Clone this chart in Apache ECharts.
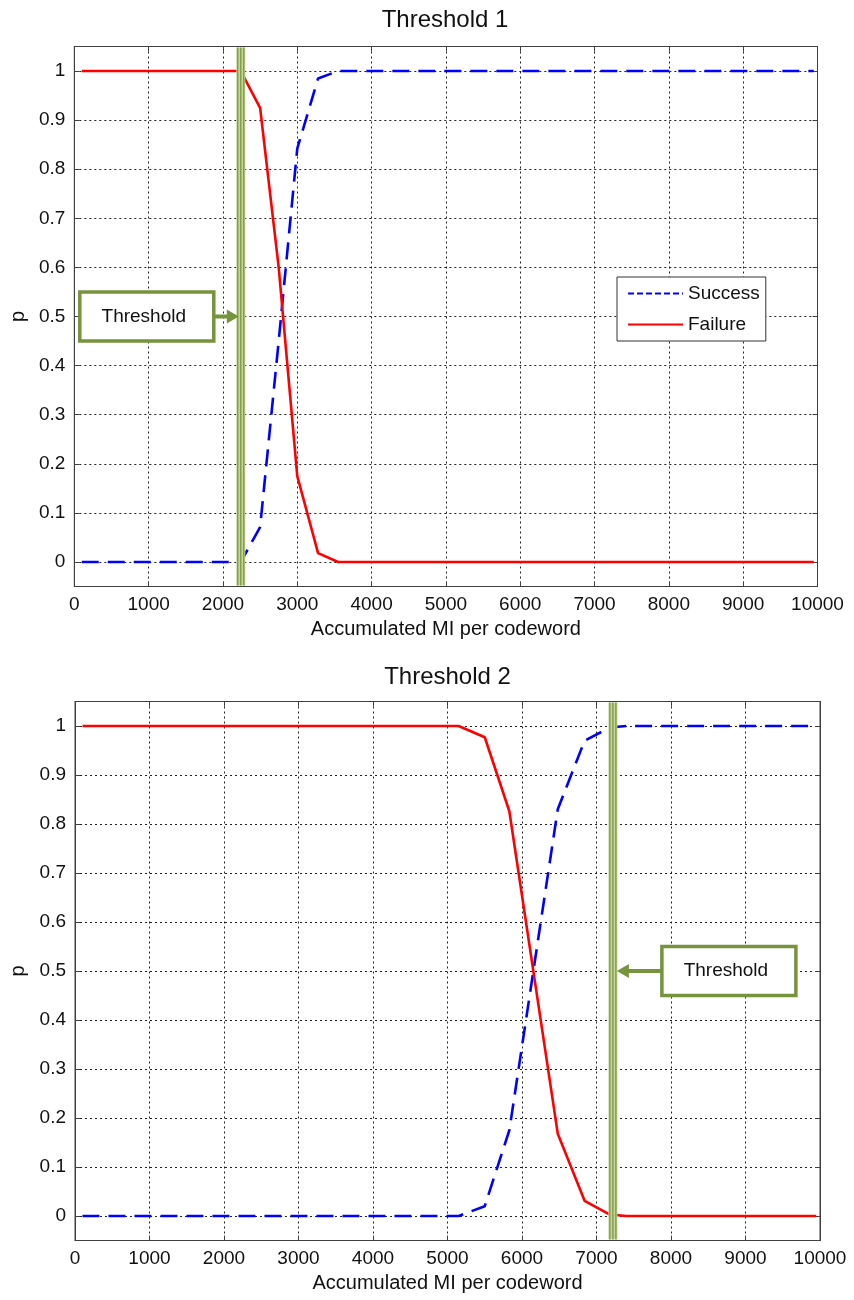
<!DOCTYPE html>
<html>
<head>
<meta charset="utf-8">
<title>Threshold 1 / Threshold 2</title>
<script src="https://cdn.jsdelivr.net/npm/echarts@6/dist/echarts.min.js"></script>
<style>
  html, body { margin: 0; padding: 0; background: #fff; }
  #chart { width: 854px; height: 1300px; }
</style>
</head>
<body>
<div id="chart"></div>
<script>
// ---- data ----
const panelTitles = ['Threshold 1', 'Threshold 2'];
const xAxisName = 'Accumulated MI per codeword';
const yAxisName = 'p';
const yTicks = [0, 0.1, 0.2, 0.3, 0.4, 0.5, 0.6, 0.7, 0.8, 0.9, 1];

// panel 1
const mi1 = [100, 2240, 2500, 2750, 3000, 3280, 3550, 9950];
const success1 = [0, 0, 0.071, 0.45, 0.842, 0.985, 1, 1];
const failure1 = [1, 1, 0.925, 0.6, 0.175, 0.018, 0, 0];
const threshold1 = 2240;

// panel 2
const mi2 = [100, 5150, 5500, 5830, 6480, 6840, 7180, 7400, 9950];
const success2 = [0, 0, 0.02, 0.175, 0.83, 0.97, 0.997, 1, 1];
const failure2 = [1, 1, 0.977, 0.826, 0.168, 0.031, 0.003, 0, 0];
const threshold2 = 7220;

const thresholdLabel = 'Threshold';
const thresholdP = 0.5;

// ---- styling ----
const FONT = '"Liberation Sans", Arial, Helvetica, sans-serif';
const BLUE = '#0000ff';
const RED = '#ff0000';
const OLIVE = '#77933c';
const OLIVE_LIGHT = '#c4d79b';
const AXIS = '#404040';

const grids = [
  { left: 72.5, top: 46.5, width: 745, height: 540 },
  { left: 75, top: 701.5, width: 745, height: 539 }
];

function pairs(xs, ys) { return xs.map((x, i) => [x, ys[i]]); }

function xAxes(gi) {
  const base = {
    type: 'value', gridIndex: gi, min: 0, max: 10000, interval: 1000,
    axisLine: { show: true, onZero: false, lineStyle: { color: AXIS, width: 1 } },
    axisTick: { show: true, inside: true, length: 5, lineStyle: { color: AXIS } }
  };
  return [
    Object.assign({}, base, {
      position: 'bottom',
      name: xAxisName, nameLocation: 'middle', nameGap: 33,
      nameTextStyle: { fontSize: 20, color: '#111', fontFamily: FONT },
      axisLabel: { fontSize: 19, color: '#111', margin: 9, fontFamily: FONT, formatter: v => String(v) },
      splitLine: { show: true, lineStyle: { color: '#222', width: 1, type: [2, 3] } }
    }),
    Object.assign({}, base, {
      position: 'top', axisLabel: { show: false }, splitLine: { show: false }
    })
  ];
}

function yAxes(gi) {
  const base = {
    type: 'value', gridIndex: gi, min: -0.05, max: 1.05,
    axisLine: { show: true, onZero: false, lineStyle: { color: AXIS, width: 1 } },
    axisTick: { show: true, inside: true, length: 5, customValues: yTicks, lineStyle: { color: AXIS } }
  };
  return [
    Object.assign({}, base, {
      position: 'left',
      name: yAxisName, nameLocation: 'middle', nameGap: 46, nameRotate: 90,
      nameTextStyle: { fontSize: 20, color: '#111', fontFamily: FONT },
      axisLabel: { fontSize: 19, color: '#111', margin: 9, fontFamily: FONT,
                   customValues: yTicks, formatter: v => String(+v.toFixed(2)) },
      splitLine: { show: true, lineStyle: { color: '#222', width: 1, type: [2, 3] } }
    }),
    Object.assign({}, base, {
      position: 'right', axisLabel: { show: false }, splitLine: { show: false }
    })
  ];
}

// vertical threshold band plus the boxed "Threshold" call-out with arrow
function thresholdRenderer(side) {
  return function (params, api) {
    const p = api.coord([api.value(0), api.value(1)]);
    const cs = params.coordSys;
    const cx = p[0], cy = p[1];
    const top = cs.y + 1, h = cs.height - 2;
    const children = [
      { type: 'rect', shape: { x: cx - 4.5, y: top, width: 9, height: h }, style: { fill: OLIVE_LIGHT } }
    ];
    [-3, 0, 3].forEach(d => children.push({
      type: 'line', shape: { x1: cx + d, y1: top, x2: cx + d, y2: top + h },
      style: { stroke: OLIVE, lineWidth: 1.2 }
    }));
    const bw = 134, bh = 49;
    let bx;
    if (side === 'left') {
      bx = cx - 27 - bw;
      children.push(
        { type: 'line', shape: { x1: cx - 27, y1: cy, x2: cx - 12, y2: cy }, style: { stroke: OLIVE, lineWidth: 4 } },
        { type: 'polygon', shape: { points: [[cx - 14, cy - 7], [cx - 14, cy + 7], [cx - 2, cy]] }, style: { fill: OLIVE } }
      );
    } else {
      bx = cx + 49;
      children.push(
        { type: 'line', shape: { x1: cx + 49, y1: cy, x2: cx + 14, y2: cy }, style: { stroke: OLIVE, lineWidth: 4 } },
        { type: 'polygon', shape: { points: [[cx + 16, cy - 7], [cx + 16, cy + 7], [cx + 4, cy]] }, style: { fill: OLIVE } }
      );
    }
    children.push(
      { type: 'rect', shape: { x: bx, y: cy - bh / 2, width: bw, height: bh },
        style: { fill: '#fff', stroke: OLIVE, lineWidth: 3.5 } },
      { type: 'text', x: bx + bw / 2 - 3, y: cy,
        style: { text: thresholdLabel, fill: '#111', fontSize: 19, fontFamily: FONT,
                 align: 'center', verticalAlign: 'middle', textAlign: 'center', textVerticalAlign: 'middle' } }
    );
    return { type: 'group', children: children };
  };
}

function curveSeries(gi, xs, succ, fail) {
  return [
    { name: 'Success', type: 'line', xAxisIndex: gi * 2, yAxisIndex: gi * 2,
      data: pairs(xs, succ), symbol: 'none', z: 3, silent: true,
      lineStyle: { color: BLUE, width: 2.6, type: [17, 9] }, itemStyle: { color: BLUE } },
    { name: 'Failure', type: 'line', xAxisIndex: gi * 2, yAxisIndex: gi * 2,
      data: pairs(xs, fail), symbol: 'none', z: 3, silent: true,
      lineStyle: { color: RED, width: 2.6 }, itemStyle: { color: RED } }
  ];
}

function thresholdSeries(gi, thr, side) {
  return { type: 'custom', xAxisIndex: gi * 2, yAxisIndex: gi * 2, z: 6, clip: false, silent: true,
           data: [[thr, thresholdP]], encode: { x: 0, y: 1 }, renderItem: thresholdRenderer(side) };
}

const chart = echarts.init(document.getElementById('chart'), null, { renderer: 'canvas' });
chart.setOption({
  animation: false,
  backgroundColor: '#fff',
  textStyle: { fontFamily: FONT },
  graphic: [
    { type: 'text', x: grids[0].left + grids[0].width / 2, y: 20,
      style: { text: panelTitles[0], fontSize: 24, fontFamily: FONT, fill: '#111', align: 'center', verticalAlign: 'middle' } },
    { type: 'text', x: grids[1].left + grids[1].width / 2, y: 677,
      style: { text: panelTitles[1], fontSize: 24, fontFamily: FONT, fill: '#111', align: 'center', verticalAlign: 'middle' } }
  ],
  grid: grids.map(g => Object.assign({ show: true, borderColor: AXIS, borderWidth: 1, backgroundColor: '#fff' }, g)),
  xAxis: xAxes(0).concat(xAxes(1)),
  yAxis: yAxes(0).concat(yAxes(1)),
  legend: {
    data: [
      { name: 'Success', lineStyle: { type: [6, 3] } },
      { name: 'Failure' }
    ],
    orient: 'vertical', left: 617, top: 277,
    backgroundColor: '#fff', borderColor: '#333', borderWidth: 1, borderRadius: 0,
    padding: [7, 6, 7, 10], itemWidth: 55, itemHeight: 14, itemGap: 12,
    itemStyle: { opacity: 0 },
    selectedMode: false,
    textStyle: { fontSize: 19, color: '#111', fontFamily: FONT }
  },
  series: [].concat(
    curveSeries(0, mi1, success1, failure1),
    curveSeries(1, mi2, success2, failure2),
    [thresholdSeries(0, threshold1, 'left'), thresholdSeries(1, threshold2, 'right')]
  )
});
</script>
</body>
</html>
